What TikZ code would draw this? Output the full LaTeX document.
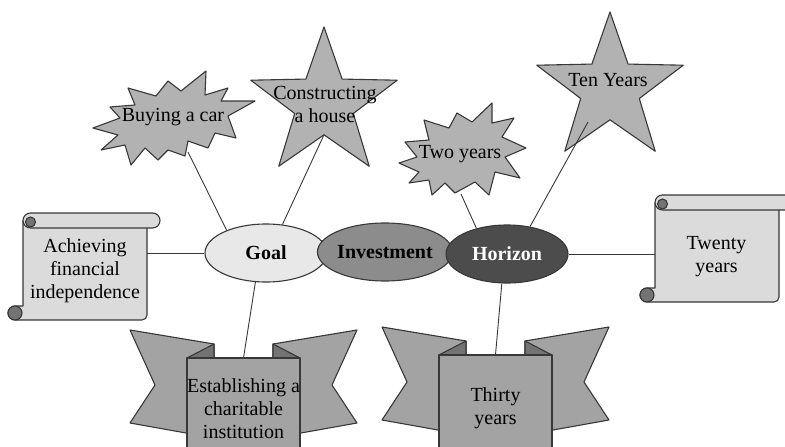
\documentclass[tikz,border=0pt]{standalone}
\usepackage{fontspec}
\setmainfont{Liberation Serif}
\usetikzlibrary{shapes.geometric}
\definecolor{edgegray}{gray}{0.22}
\definecolor{shapegray}{gray}{0.70}
\definecolor{ribbongray}{gray}{0.64}
\definecolor{foldgray}{gray}{0.45}
\definecolor{scrollgray}{gray}{0.86}
\definecolor{curlgray}{gray}{0.45}
\definecolor{goalgray}{gray}{0.91}
\definecolor{investgray}{gray}{0.55}
\definecolor{horizongray}{gray}{0.30}
\tikzset{
  outline/.style={draw=edgegray, line width=1.1pt, line join=round},
  lbl/.style={font=\fontsize{20}{23}\selectfont, align=center, inner sep=0pt, text=black},
  hub/.style={ellipse, outline, minimum width=122, minimum height=58, inner sep=0pt,
              font=\fontsize{20}{23}\selectfont\bfseries},
  link/.style={draw=edgegray, line width=0.9pt},
  starshape/.style={star, star points=5, star point ratio=2.5, minimum size=154,
                    inner sep=0pt, outer sep=0pt, outline, fill=shapegray},
  burst/.style={outline, fill=shapegray},
  scrollshape/.pic={
    \path[outline, fill=scrollgray] (0,-8) -- (124,-8) -- (124,-102)
      arc[start angle=0, end angle=-90, radius=5] -- (-8,-107)
      arc[start angle=270, end angle=90, radius=7] -- (0,-93) -- cycle;
    \path[outline, fill=curlgray] (-8,-100) circle[radius=7];
    \path[outline, fill=scrollgray] (7.5,0) -- (129.5,0)
      arc[start angle=90, end angle=-90, radius=7.5] -- (7.5,-15)
      arc[start angle=270, end angle=90, radius=7.5] -- cycle;
    \path[outline, fill=curlgray] (7.5,-9) circle[radius=5];
  },
  ribbonshape/.pic={
    \path[outline, fill=ribbongray] (-57,28) -- (27,14) -- (27,-80) -- (-57,-65) -- (-32,-27) -- cycle;
    \path[outline, fill=ribbongray] (170,28) -- (86,14) -- (86,-80) -- (170,-65) -- (145,-27) -- cycle;
    \path[outline, fill=foldgray] (0,0) -- (27,14) -- (27,-2) -- cycle;
    \path[outline, fill=foldgray] (113,0) -- (86,14) -- (86,-2) -- cycle;
    \path[outline, fill=ribbongray] (0,0) -- (113,0) -- (113,-120) -- (0,-120) -- cycle;
  }
}
\begin{document}
\begin{tikzpicture}[x=1pt, y=1pt]
\useasboundingbox (0,-447) rectangle (785,0);
\clip (0,-447) rectangle (785,0);

% scrolls
\pic at (23,-213) {scrollshape};
\pic at (655,-195) {scrollshape};

% ribbons
\pic at (187,-358) {ribbonshape};
\pic at (439,-355) {ribbonshape};

% stars
\node[starshape] (houseS) at (324,-104) {};
\node[starshape] (tenS) at (610,-89) {};

% bursts
\path[burst] (93,-128) -- (120,-118) -- (110,-107) -- (135,-105) -- (128,-88) -- (156,-96)
  -- (168,-81) -- (181,-91) -- (206,-71) -- (205,-95) -- (228,-88) -- (221,-101)
  -- (255,-101) -- (228,-116) -- (236,-138) -- (215,-133) -- (208,-148) -- (188,-141)
  -- (185,-156) -- (168,-150) -- (158,-160) -- (145,-148) -- (131,-165) -- (125,-145)
  -- (101,-150) -- (118,-135) -- cycle;
\path[burst] (399,-163) -- (417,-157) -- (405,-142) -- (429,-140) -- (424,-120) -- (449,-128)
  -- (457,-113) -- (472,-122) -- (492,-103) -- (492,-123) -- (514,-118) -- (502,-137)
  -- (526,-148) -- (505,-157) -- (520,-178) -- (495,-172) -- (489,-195) -- (475,-182)
  -- (455,-193) -- (445,-183) -- (432,-195) -- (429,-180) -- (409,-183) -- (419,-172) -- cycle;

% hubs
\node[hub, fill=goalgray] (goal) at (266,-253) {Goal};
\node[hub, fill=investgray] (invest) at (385,-252) {Investment};
\node[hub, fill=horizongray, text=white] (horizon) at (507,-254) {Horizon};

% labels
\node[lbl, minimum width=124, minimum height=98] (ach) at (85,-271) {Achieving\\financial\\independence};
\node[lbl, minimum width=123, minimum height=94] (twenty) at (716.5,-257) {Twenty\\years};
\node[lbl, minimum width=113, minimum height=102] (charity) at (243.5,-409) {Establishing a\\charitable\\institution};
\node[lbl, minimum width=113, minimum height=107] (thirty) at (495.5,-408.5) {Thirty\\years};
\node[lbl] (house) at (325,-104) {Constructing\\a house};
\node[lbl] (ten) at (608,-80) {Ten Years};
\node[lbl] (buy) at (173,-117) {Buying a car};
\node[lbl] (two) at (460,-154) {Two years};

% connector ends
\coordinate (buyE) at (188,-152);
\coordinate (twoE) at (461,-194);
\coordinate (tenE) at (588,-122);

% connectors
\draw[link] (goal.west) -- (goal.west -| ach.east);
\draw[link] (goal.150) -- (buyE);
\draw[link] (goal.60) -- (houseS.inner point 3);
\draw[link] (goal.250) -- (charity.north);
\draw[link] (horizon.140) -- (twoE);
\draw[link] (horizon.50) -- (tenE);
\draw[link] (horizon.260) -- (thirty.north);
\draw[link] (horizon.east) -- (horizon.east -| twenty.west);
\end{tikzpicture}
\end{document}
